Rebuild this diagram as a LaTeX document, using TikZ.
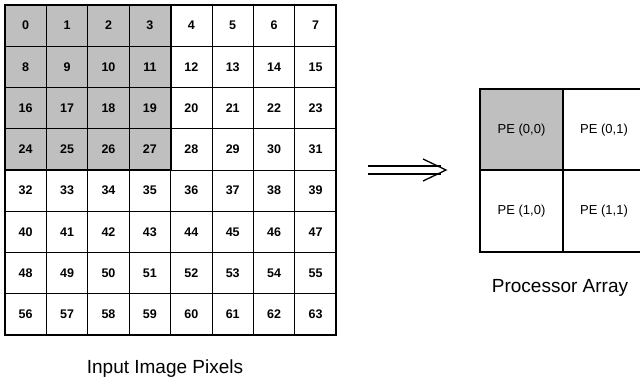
\documentclass[tikz,border=0pt]{standalone}
\usepackage{fontspec}
\setmainfont{Liberation Sans}
\usetikzlibrary{arrows.meta}
\begin{document}
\begin{tikzpicture}[x=1pt,y=-1pt,
  cellnum/.style={font=\fontsize{12.5}{14}\selectfont\bfseries},
  pelabel/.style={font=\fontsize{13}{15}\selectfont},
  caption/.style={font=\fontsize{19}{22}\selectfont},
  thin grid/.style={line width=0.8pt},
  thick border/.style={line width=1.8pt},
  shade/.style={fill=black!25}]
\useasboundingbox (0,0) rectangle (640,384);
\def\cw{41.4}\def\ch{41.25}
% shaded 4x4 block
\fill[shade] (5,5) rectangle ({5+4*\cw},{5+4*\ch});
% inner grid lines
\foreach \i in {1,...,7}{
  \draw[thin grid] ({5+\i*\cw},5) -- ({5+\i*\cw},{5+8*\ch});
  \draw[thin grid] (5,{5+\i*\ch}) -- ({5+8*\cw},{5+\i*\ch});
}
\draw[thick border] (5,5) rectangle ({5+4*\cw},{5+4*\ch});
\draw[thick border] (5,5) rectangle ({5+8*\cw},{5+8*\ch});
% numbers
\foreach \r in {0,...,7}{
  \foreach \c in {0,...,7}{
    \pgfmathtruncatemacro{\n}{8*\r+\c}
    \node[cellnum] (c\n) at ({5+(\c+0.5)*\cw},{5+(\r+0.5)*\ch}) {\n};
  }
}
\node[caption] (incap) at (165,369) {Input Image Pixels};
% arrow
\coordinate (a1) at (368,166);
\coordinate (a2) at (441,166);
\coordinate (a3) at (368,174);
\coordinate (a4) at (441,174);
\coordinate (h1) at (423,159);
\coordinate (h2) at (446,170);
\coordinate (h3) at (423,181);
\draw[line width=1.3pt] (a1) -- (a2);
\draw[line width=1.3pt] (a3) -- (a4);
\draw[line width=1.3pt, line join=miter] (h1) -- (h2) -- (h3);
% processor array
\fill[shade] (480,89) rectangle (563,170);
\draw[line width=1.5pt] (480,89) rectangle (646,252);
\draw[line width=1.2pt] (563,89) -- (563,252);
\draw[line width=1.2pt] (480,170) -- (646,170);
\node[pelabel] (pe00) at (521.5,130) {PE (0,0)};
\node[pelabel] (pe01) at (604,130) {PE (0,1)};
\node[pelabel] (pe10) at (521.5,211) {PE (1,0)};
\node[pelabel] (pe11) at (604,211) {PE (1,1)};
\node[caption] (pacap) at (560,288) {Processor Array};
\end{tikzpicture}
\end{document}
